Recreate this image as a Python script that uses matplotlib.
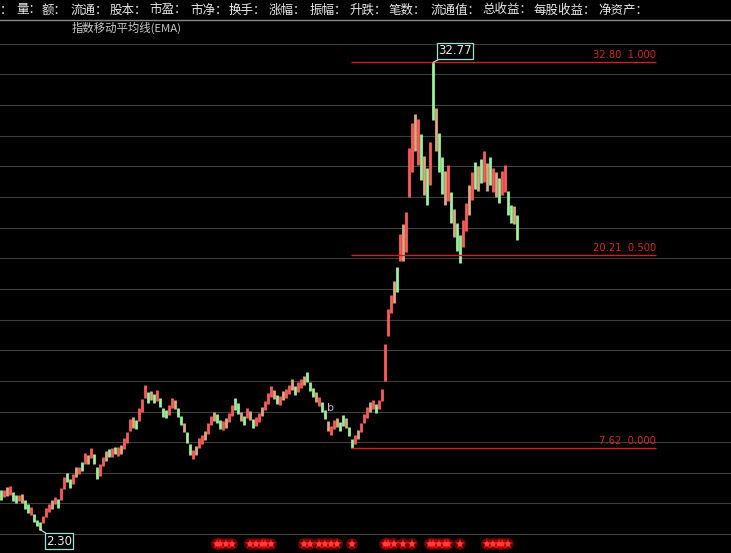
import matplotlib
matplotlib.use("Agg")
import matplotlib.pyplot as plt
import numpy as np

# ---------------- data ----------------
lows = [4.25, 4.40, 4.50, 4.55, 4.15, 4.05, 4.15, 4.00, 3.65, 3.35,
        3.25, 2.80, 2.50, 2.30, 2.70, 3.10, 3.45, 3.65, 3.95, 3.70,
        4.20, 4.95, 5.40, 5.00, 5.30, 5.75, 5.90, 6.10, 6.60, 6.55,
        7.00, 6.55, 5.60, 5.80, 6.45, 6.80, 7.05, 7.05, 7.20, 7.10,
        7.20, 7.55, 7.95, 8.70, 8.95, 8.85, 9.40, 10.00, 10.85, 10.55,
        10.75, 10.55, 10.70, 10.30, 9.65, 9.60, 9.80, 10.20, 10.15, 9.65,
        9.10, 8.65, 7.95, 7.15, 6.90, 7.15, 7.60, 7.90, 8.15, 8.55,
        9.10, 9.40, 9.25, 8.85, 8.80, 8.95, 9.30, 9.70, 10.10, 9.85,
        9.35, 9.10, 9.55, 9.45, 8.90, 9.05, 9.30, 9.70, 10.10, 10.50,
        10.95, 10.80, 10.50, 10.40, 10.75, 10.90, 11.15, 11.40, 11.05, 11.30,
        11.55, 11.70, 11.90, 11.35, 10.95, 10.65, 10.35, 10.00, 9.50, 8.70,
        8.45, 8.85, 9.00, 8.70, 9.05, 8.95, 8.40, 7.62, 7.90, 8.20,
        8.65, 9.25, 9.60, 10.00, 10.15, 9.90, 10.15, 10.70, 12.00, 14.90,
        16.40, 17.10, 17.80, 19.80, 19.80, 20.40, 24.00, 25.60, 27.00, 26.10,
        25.10, 24.10, 23.50, 24.80, 29.03, 27.00, 25.60, 24.20, 23.50, 23.70,
        22.30, 21.40, 20.50, 19.70, 20.70, 21.80, 22.80, 23.80, 24.50, 24.40,
        24.90, 25.00, 24.40, 24.80, 24.30, 24.00, 23.60, 24.10, 24.30, 22.80,
        22.30, 22.20, 21.20]
highs = [4.85, 4.90, 5.10, 5.15, 4.75, 4.55, 4.55, 4.60, 4.25, 3.95,
         3.75, 3.30, 2.90, 2.80, 3.20, 3.70, 3.95, 4.25, 4.45, 4.30,
         5.00, 5.75, 6.00, 5.60, 5.90, 6.35, 6.40, 6.70, 7.30, 7.15,
         7.60, 7.25, 6.40, 6.60, 7.05, 7.40, 7.55, 7.65, 7.70, 7.70,
         7.80, 8.25, 8.65, 9.50, 9.65, 9.45, 10.20, 10.80, 11.75, 11.25,
         11.35, 11.15, 11.40, 10.90, 10.25, 10.10, 10.40, 10.90, 10.75, 10.25,
         9.70, 9.25, 8.65, 7.85, 7.50, 7.75, 8.30, 8.50, 8.75, 9.25,
         9.70, 10.00, 9.85, 9.45, 9.40, 9.55, 9.90, 10.40, 10.90, 10.55,
         9.95, 9.70, 10.25, 10.05, 9.50, 9.65, 9.90, 10.30, 10.70, 11.20,
         11.65, 11.40, 11.10, 11.00, 11.35, 11.50, 11.75, 12.10, 11.65, 11.90,
         12.15, 12.30, 12.60, 11.95, 11.55, 11.25, 10.95, 10.60, 10.10, 9.40,
         9.05, 9.45, 9.60, 9.30, 9.75, 9.55, 9.00, 8.20, 8.50, 8.80,
         9.25, 9.85, 10.30, 10.60, 10.75, 10.50, 10.75, 11.50, 14.40, 16.70,
         17.60, 18.50, 19.40, 21.60, 22.20, 23.00, 27.20, 28.80, 29.40, 29.10,
         28.10, 26.70, 25.90, 27.60, 32.77, 29.80, 28.20, 26.60, 25.70, 26.10,
         24.30, 23.20, 22.30, 21.50, 22.50, 23.60, 24.80, 25.60, 26.30, 26.00,
         26.50, 27.00, 26.20, 26.60, 25.90, 25.60, 25.20, 25.70, 26.10, 24.40,
         23.50, 23.40, 22.80]
# r = up (red), g = down (green), t = mixed (tan)
kinds = ("grtrggrtgg" "rgggrrrtrg" "rrggrtrgrt" "rggrrtgrgr" "trrrtgrrrg"
         "tgrgggrrtg" "gtggrtrrtr" "rtggrtrrgg" "tgrtgrrtrr" "rtgrtrrtgr"
         "rtgggtrggt" "rrtggtggrt" "rrrtrgrrrr" "rtgrtrrrtr" "gtgrgtggtr"
         "gtggrrtrgt" "grtgrtgrrg" "gtg")
signal_idx = [72, 73, 75, 77, 83, 85, 87, 88, 90, 101, 103, 106, 108, 110, 112,
              117, 128, 129, 131, 134, 137, 143, 144, 146, 148, 149, 153,
              162, 164, 166, 167, 169]
fib_prices = [32.80, 20.21, 7.62]
fib_ratios = ["1.000", "0.500", "0.000"]
grid_prices = list(range(2, 35, 2))
header_items = ["量", "额", "流通", "股本", "市盈", "市净", "换手", "涨幅", "振幅",
                "升跌", "笔数", "流通值", "总收益", "每股收益", "净资产"]
header_x = [16, 42, 70, 110, 149, 190, 229, 269, 310, 350, 389, 430, 482, 534, 598]
indicator_title = "指数移动平均线(EMA)"
peak_label, low_label = "32.77", "2.30"

# ---------------- drawing ----------------
W, H = 731, 553
fig = plt.figure(figsize=(W / 100, H / 100), dpi=100, facecolor="black")
ax = fig.add_axes([0, 0, 1, 1])
ax.set_facecolor("black")
for s in ax.spines.values():
    s.set_visible(False)
ax.set_xticks([]); ax.set_yticks([])

n = len(lows)
x = np.arange(n)
ax.set_xlim(-1 / 3, 730 / 3)
ax.set_ylim(7.62 - 105 / 15.33, 7.62 + 448 / 15.33)

for g in grid_prices:
    ax.axhline(g, color="#3e3e3e", lw=0.8, zorder=1)

cmap = {"r": "#ff5a5a", "g": "#9cf09c", "t": "#dcaa7c"}
cols = [cmap[k] for k in kinds]
ax.vlines(x, lows, highs, colors=cols, lw=2.0, zorder=3)

# fibonacci lines
fx0, fx1 = 116.7, 218.3
for p, r in zip(fib_prices, fib_ratios):
    ax.hlines(p, fx0, fx1, color="#d41c1c", lw=1.0, zorder=4)
    ax.annotate(f"{p:.2f}  {r}", (fx1, p), xytext=(0, 2), textcoords="offset pixels",
                ha="right", va="bottom", color="#d42424", fontsize=7.2,
                family="DejaVu Sans", zorder=5)

# peak / low annotations
imax = int(np.argmax(highs)); imin = int(np.argmin(lows))
ax.annotate(peak_label, (imax, highs[imax]), xytext=(5, 5), textcoords="offset pixels",
            ha="left", va="bottom", color="#e8e8e8", fontsize=8.5,
            bbox=dict(boxstyle="square,pad=0.1", fc="black", ec="#9ee0d4", lw=0.9),
            arrowprops=dict(arrowstyle="-", color="#e0e0e0", lw=0.8, shrinkA=0, shrinkB=0),
            zorder=6)
ax.annotate(low_label, (imin, lows[imin]), xytext=(6, -5), textcoords="offset pixels",
            ha="left", va="top", color="#e8e8e8", fontsize=8.5,
            bbox=dict(boxstyle="square,pad=0.1", fc="black", ec="#9ee0d4", lw=0.9),
            arrowprops=dict(arrowstyle="-", color="#e0e0e0", lw=0.8, shrinkA=0, shrinkB=0),
            zorder=6)

ax.text(110, 10.25, "b", color="#b8b8c8", fontsize=8, ha="center", va="center", zorder=6)

# signal markers at bottom
sy = 7.62 - (544 - 448) / 15.33
ax.scatter(signal_idx, [sy] * len(signal_idx), marker="o", s=75, color="#ff0000",
           alpha=0.35, edgecolors="none", zorder=5)
ax.scatter(signal_idx, [sy] * len(signal_idx), marker="*", s=60, color="#ff1414",
           edgecolors="none", zorder=6)
ax.scatter(signal_idx, [sy] * len(signal_idx), marker="o", s=10, color="#ff4040",
           edgecolors="none", zorder=7)

# header
fig.patches.append(plt.Rectangle((0, 1 - 19 / H), 1, 19 / H, transform=fig.transFigure,
                                 facecolor="black", edgecolor="none", zorder=10))
fig.add_artist(plt.Line2D([0, 1], [1 - 19.5 / H] * 2, transform=fig.transFigure,
                          color="#8a8a8a", lw=1.0, zorder=11))
cjk = ["Noto Sans CJK SC", "DejaVu Sans"]
fig.text(0 / W, 1 - 10 / H, "：", color="#e6e6e6", fontsize=9, family=cjk,
         va="center", ha="left", zorder=12)
for lbl, px in zip(header_items, header_x):
    fig.text(px / W, 1 - 10 / H, lbl + "：", color="#e6e6e6", fontsize=9, family=cjk,
             va="center", ha="left", zorder=12)
fig.text(72 / W, 1 - 28 / H, indicator_title, color="#c8c8c8", fontsize=8.2, family=cjk,
         va="center", ha="left", zorder=12)

fig.savefig("out.png", dpi=100, facecolor="black")
